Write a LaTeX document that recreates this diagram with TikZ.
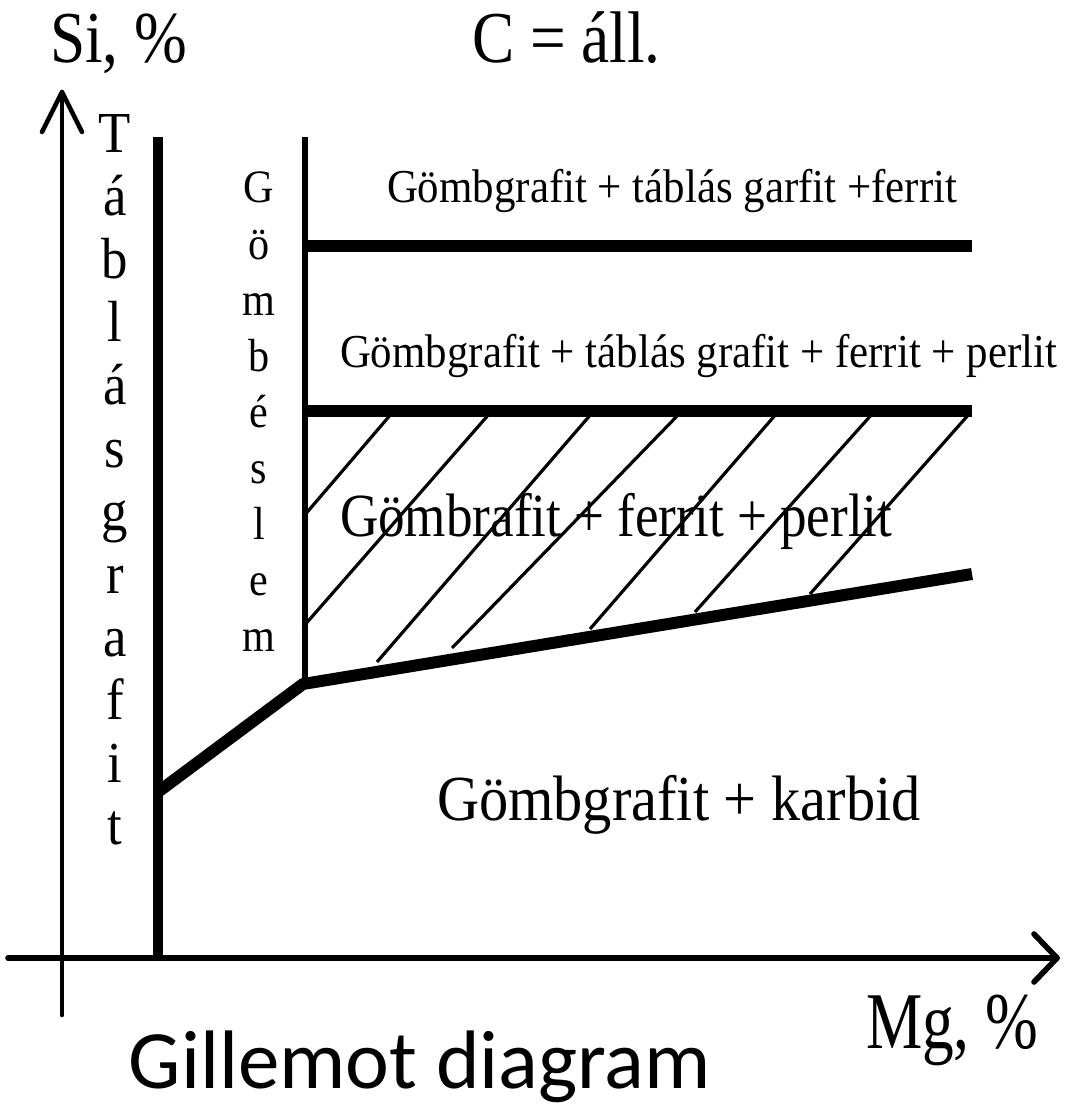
\documentclass[tikz,border=0pt]{standalone}
\usepackage{fontspec}
\usepackage{graphicx}
\setmainfont{Liberation Serif}
\newfontfamily\calibrifont{Carlito}
\begin{document}
\begin{tikzpicture}[x=0.01cm,y=-0.01cm,
  txt/.style={inner sep=0pt,outer sep=0pt,yscale=1.1},
  axislbl/.style={txt,yscale=1.05,font=\fontsize{18pt}{20pt}\selectfont},
  rowlbl/.style={txt,font=\fontsize{12.2pt}{14pt}\selectfont},
  biglbl/.style={txt,font=\fontsize{16.6pt}{19pt}\selectfont},
  tabletter/.style={txt,anchor=base,font=\fontsize{15pt}{17pt}\selectfont},
  gomletter/.style={txt,anchor=base,font=\fontsize{12pt}{14pt}\selectfont},
  axis/.style={line width=1.3pt,line cap=round,line join=round},
  xaxis/.style={line width=1.6pt,line cap=round,line join=round},
  heavy/.style={line width=3.4pt},
  hatchline/.style={line width=0.9pt}
]
\useasboundingbox (0,0) rectangle (1065,1104);

% axes
\coordinate (ytop) at (62,92);
\coordinate (ybot) at (62,1015);
\coordinate (ya1) at (42,132);
\coordinate (ya2) at (82,132);
\coordinate (xleft) at (8,958);
\coordinate (xright) at (1057,958);
\coordinate (xa1) at (1034,934);
\coordinate (xa2) at (1034,982);
\draw[axis] (ybot) -- (ytop);
\draw[axis] (ya1) -- (ytop) -- (ya2);
\draw[xaxis] (xleft) -- (xright);
\draw[xaxis] (xa1) -- (xright) -- (xa2);

% labels
\node[axislbl,anchor=base west] (si) at (50,63) {Si, \%};
\node[axislbl,anchor=base west] (call) at (472,63) {C = áll.};
\node[axislbl,yscale=1.1,anchor=base west] (mg) at (866,1048) {Mg, \%};
\node[inner sep=0pt,anchor=base west,font=\calibrifont\fontsize{23.6pt}{28pt}\selectfont] (title) at (128,1088) {Gillemot diagram};

% boundaries
\coordinate (v1top) at (158,137);
\coordinate (v1bot) at (158,958);
\coordinate (v2top) at (305,137);
\coordinate (v2bot) at (305,688);
\coordinate (knee1) at (158,792);
\coordinate (knee2) at (303,684);
\coordinate (lowend) at (972,574);
\coordinate (h1l) at (305,246);
\coordinate (h1r) at (972,246);
\coordinate (h2l) at (305,411);
\coordinate (h2r) at (972,411);
\draw[line width=3.1pt] (v1top) -- (v1bot);
\draw[line width=1.7pt] (v2top) -- (v2bot);
\draw[heavy,line join=bevel] (knee1) -- (knee2) -- (lowend);
\draw[heavy] (h1l) -- (h1r);
\draw[heavy] (h2l) -- (h2r);

% vertical words
\foreach \ch [count=\i from 0] in {T,á,b,l,á,s,g,r,a,f,i,t}
  \node[tabletter] (tab\i) at (115,{153+62.9*\i}) {\ch};
\foreach \ch [count=\i from 0] in {G,ö,m,b,é,s,l,e,m}
  \node[gomletter] (gom\i) at (259,{203+56.1*\i}) {\ch};

% region labels
\node[rowlbl,anchor=base west] (r1) at (387,203) {Gömbgrafit + táblás garfit +ferrit};
\node[rowlbl,anchor=base west] (r2) at (340,368) {Gömbgrafit + táblás grafit + ferrit + perlit};
\node[txt,yscale=1.05,anchor=base west,font=\fontsize{15.1pt}{18pt}\selectfont] (r3) at (340,537) {Gömbrafit + ferrit + perlit};
\node[biglbl,anchor=base west] (r4) at (437,820) {Gömbgrafit + karbid};

% hatching
\draw[hatchline] (392,413) -- (303,517);
\draw[hatchline] (490,413) -- (303,627);
\draw[hatchline] (592,413) -- (377,662);
\draw[hatchline] (680,413) -- (452,648);
\draw[hatchline] (777,413) -- (590,629);
\draw[hatchline] (873,413) -- (695,612);
\draw[hatchline] (970,413) -- (810,594);
\end{tikzpicture}
\end{document}
